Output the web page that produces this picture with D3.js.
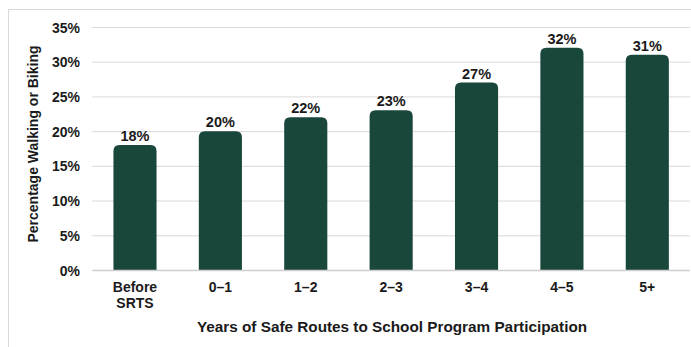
<!DOCTYPE html>
<html>
<head>
<meta charset="utf-8">
<script src="https://cdn.jsdelivr.net/npm/d3@7"></script>
<style>
  html, body { margin: 0; padding: 0; background: #fff; }
  svg { display: block; }
  text { font-family: "Liberation Sans", Arial, sans-serif; font-weight: bold; fill: #1a1a1a; }
</style>
</head>
<body>
<svg id="chart" width="691" height="347"></svg>
<script>
// Share of students walking or biking by years of SRTS participation
const categories = ["Before\nSRTS", "0–1", "1–2", "2–3", "3–4", "4–5", "5+"];
const values = [18, 20, 22, 23, 27, 32, 31];
const yTicks = [0, 5, 10, 15, 20, 25, 30, 35];
const yTitle = "Percentage Walking or Biking";
const xTitle = "Years of Safe Routes to School Program Participation";

const svg = d3.select("#chart");
const W = 691, H = 347;
const plot = { left: 92.3, right: 690, top: 27, bottom: 270 };

// outer frame
svg.append("rect")
  .attr("x", 8.5).attr("y", 9.5)
  .attr("width", W + 10).attr("height", H + 10)
  .attr("fill", "none").attr("stroke", "#d9d9d9").attr("stroke-width", 1);

const x = d3.scaleBand().domain(categories).range([plot.left, plot.right]).paddingInner(0.495).paddingOuter(0.2475);
const y = d3.scaleLinear().domain([0, 35]).range([plot.bottom, plot.top]);

// horizontal gridlines
svg.append("g").selectAll("line")
  .data(yTicks.filter(t => t > 0))
  .join("line")
  .attr("x1", plot.left).attr("x2", plot.right)
  .attr("y1", d => y(d) + 0.5).attr("y2", d => y(d) + 0.5)
  .attr("stroke", "#d9d9d9").attr("stroke-width", 1);

// y axis labels
const yAxis = d3.axisLeft(y).tickValues(yTicks).tickFormat(d => d + "%").tickSize(0).tickPadding(0);
const gy = svg.append("g").attr("transform", `translate(80,0)`).call(yAxis);
gy.select(".domain").remove();
gy.selectAll("text").attr("font-size", 14).attr("dy", "0.36em")
  .style("font-family", "'Liberation Sans', Arial, sans-serif").style("font-weight", "bold").attr("fill", "#1a1a1a");

// bars with rounded top corners
const r = 6;
const barPath = d => {
  const x0 = x(d.c), x1 = x0 + x.bandwidth(), y0 = y(0), y1 = y(d.v);
  return `M${x0},${y0} L${x0},${y1 + r} Q${x0},${y1} ${x0 + r},${y1} L${x1 - r},${y1} Q${x1},${y1} ${x1},${y1 + r} L${x1},${y0} Z`;
};
const data = categories.map((c, i) => ({ c, v: values[i] }));
svg.append("g").selectAll("path")
  .data(data)
  .join("path")
  .attr("d", barPath)
  .attr("fill", "#1a473c");

// baseline
svg.append("line")
  .attr("x1", plot.left).attr("x2", plot.right)
  .attr("y1", y(0) + 0.5).attr("y2", y(0) + 0.5)
  .attr("stroke", "#cfcfcf").attr("stroke-width", 1.5);

// value labels
svg.append("g").selectAll("text")
  .data(data)
  .join("text")
  .attr("x", d => x(d.c) + x.bandwidth() / 2)
  .attr("y", d => y(d.v) - 4)
  .attr("text-anchor", "middle")
  .attr("font-size", 14.5)
  .text(d => d.v + "%");

// category labels
const xl = svg.append("g").selectAll("text")
  .data(categories)
  .join("text")
  .attr("x", d => x(d) + x.bandwidth() / 2)
  .attr("y", 292)
  .attr("text-anchor", "middle")
  .attr("font-size", 14);
xl.each(function (d) {
  const lines = d.split("\n");
  d3.select(this).selectAll("tspan").data(lines).join("tspan")
    .attr("x", x(d) + x.bandwidth() / 2)
    .attr("dy", (l, i) => i === 0 ? 0 : 16)
    .text(l => l);
});

// axis titles
svg.append("text")
  .attr("x", 392)
  .attr("y", 332)
  .attr("text-anchor", "middle")
  .attr("font-size", 15.3)
  .text(xTitle);

svg.append("text")
  .attr("transform", `translate(38,144) rotate(-90)`)
  .attr("text-anchor", "middle")
  .attr("font-size", 14)
  .text(yTitle);
</script>
</body>
</html>
